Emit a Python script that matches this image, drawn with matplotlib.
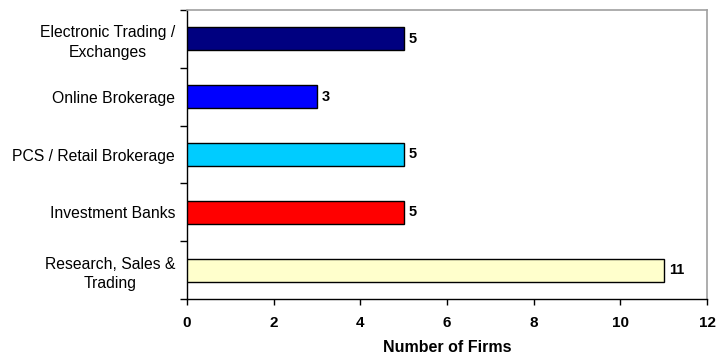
import matplotlib
matplotlib.use("Agg")
import matplotlib.pyplot as plt
import numpy as np

plt.rcParams['font.family'] = ['Liberation Sans', 'DejaVu Sans']

categories = ["Research, Sales &\nTrading", "Investment Banks", "PCS / Retail Brokerage",
              "Online Brokerage", "Electronic Trading /\nExchanges"]
firms = [11, 5, 5, 3, 5]
colors = ["#ffffcc", "#ff0000", "#00ccff", "#0000ff", "#000080"]
x_ticks = [0, 2, 4, 6, 8, 10, 12]

fig = plt.figure(figsize=(7.27, 3.56), dpi=100)
ax = fig.add_axes([187 / 727, 57 / 356, 520 / 727, 289 / 356])

pos = np.arange(len(categories))
ax.barh(pos, firms, height=0.4, color=colors, edgecolor="black", linewidth=1.0, zorder=3)

for p, v in zip(pos, firms):
    ax.text(v + 0.12, p, str(v), va="center", ha="left", fontsize=10.5, fontweight="bold")

ax.set_xlim(0, 12)
ax.set_ylim(-0.5, len(categories) - 0.5)

ax.set_xticks(x_ticks)
ax.set_xticklabels([str(t) for t in x_ticks], fontsize=11, fontweight="bold")
ax.tick_params(axis="x", direction="out", length=4, width=1, pad=8.5)

# category boundaries carry the tick marks; names sit at the bar centres
ax.set_yticks(np.arange(-0.5, len(categories)), labels=[""] * (len(categories) + 1))
ax.tick_params(axis="y", which="major", direction="out", length=5, width=1)
ax.set_yticks(pos, labels=categories, minor=True)
ax.tick_params(axis="y", which="minor", length=0, pad=8.5, labelsize=11.3)
for lbl in ax.get_yticklabels(minor=True):
    lbl.set_multialignment("center")
    lbl.set_linespacing(1.4)

ax.set_xlabel("Number of Firms", fontsize=11.5, fontweight="bold", labelpad=7)

for side in ("left", "bottom"):
    ax.spines[side].set_color("black")
    ax.spines[side].set_linewidth(1.0)
for side in ("top", "right"):
    ax.spines[side].set_color("#a0a0a0")
    ax.spines[side].set_linewidth(1.2)

fig.savefig("out.png", dpi=100)
